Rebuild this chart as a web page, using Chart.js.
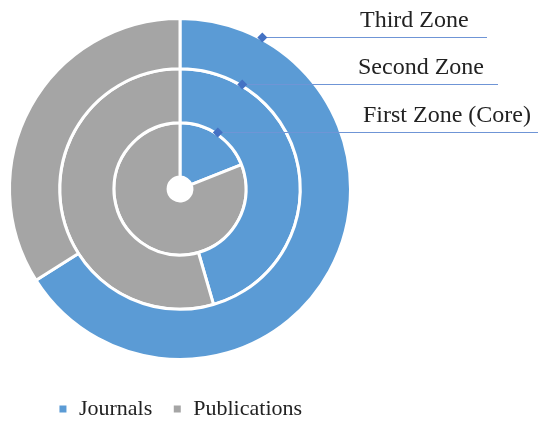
<!DOCTYPE html>
<html>
<head>
<meta charset="utf-8">
<script src="https://cdn.jsdelivr.net/npm/chart.js@4.4.1/dist/chart.umd.min.js"></script>
<style>
  html, body { margin: 0; padding: 0; background: #fff; }
  #wrap { width: 550px; height: 423px; }
</style>
</head>
<body>
<div id="wrap"><canvas id="zonesChart"></canvas></div>
<script>
const categories = ['Journals', 'Publications']
const zoneNames = ['Third Zone', 'Second Zone', 'First Zone (Core)']
const thirdZone = [66, 34]
const secondZone = [45.5, 54.5]
const firstZone = [19, 81]
const colors = ['#5b9bd5', '#a5a5a5']

// callout labels drawn next to each ring
const calloutPlugin = {
    id: 'callouts',
    afterDatasetsDraw(chart) {
        const ctx = chart.ctx
        const opts = [
            { angle: 28.5, textX: 360, lineEnd: 487 },
            { angle: 30.6, textX: 358, lineEnd: 498 },
            { angle: 33.7, textX: 363, lineEnd: 538 }
        ]
        ctx.save()
        chart.data.datasets.forEach((ds, i) => {
            const arc = chart.getDatasetMeta(i).data[0]
            const ang = -Math.PI / 2 + Math.PI * opts[i].angle / 180
            const r = arc.outerRadius + 2
            const mx = arc.x + r * Math.cos(ang)
            const my = Math.round(arc.y + r * Math.sin(ang)) + 0.5
            ctx.strokeStyle = '#6f95d6'
            ctx.lineWidth = 1
            ctx.beginPath()
            ctx.moveTo(mx, my)
            ctx.lineTo(opts[i].lineEnd, my)
            ctx.stroke()
            ctx.fillStyle = '#4472c4'
            ctx.beginPath()
            ctx.moveTo(mx, my - 5)
            ctx.lineTo(mx + 5, my)
            ctx.lineTo(mx, my + 5)
            ctx.lineTo(mx - 5, my)
            ctx.closePath()
            ctx.fill()
            ctx.fillStyle = '#222'
            ctx.font = '24px "Liberation Serif", serif'
            ctx.textBaseline = 'alphabetic'
            ctx.fillText(zoneNames[i], opts[i].textX, my - 11)
        })
        ctx.restore()
    }
}

const config = {
    type: 'doughnut',
    data: {
        labels: categories,
        datasets: [
            { label: zoneNames[0], data: thirdZone, backgroundColor: colors, borderColor: '#fff', borderWidth: 3, hoverOffset: 0, weight: 50 },
            { label: zoneNames[1], data: secondZone, backgroundColor: colors, borderColor: '#fff', borderWidth: 3, hoverOffset: 0, weight: 54 },
            { label: zoneNames[2], data: firstZone, backgroundColor: colors, borderColor: '#fff', borderWidth: 3, hoverOffset: 0, weight: 54 }
        ]
    },
    options: {
        responsive: true,
        maintainAspectRatio: false,
        animation: false,
        cutout: '7%',
        layout: { padding: { left: 8, right: 198, top: 0, bottom: -7 } },
        plugins: {
            tooltip: { enabled: false },
            legend: {
                position: 'bottom',
                labels: {
                    usePointStyle: true,
                    pointStyle: 'rect',
                    pointStyleWidth: 10,
                    boxWidth: 10,
                    boxHeight: 10,
                    padding: 20,
                    color: '#222',
                    font: { family: '"Liberation Serif", serif', size: 22 }
                }
            }
        }
    },
    plugins: [calloutPlugin]
}

new Chart(document.getElementById('zonesChart'), config)
</script>
</body>
</html>
